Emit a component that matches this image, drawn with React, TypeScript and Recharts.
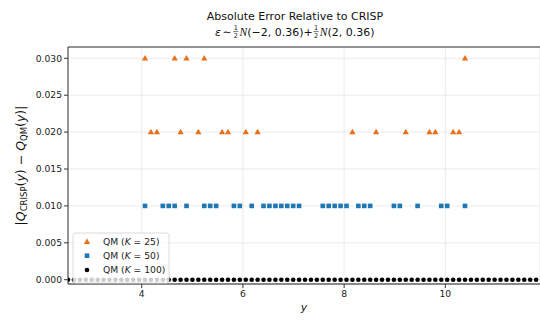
import type { FC } from 'react';
import { ScatterChart, Scatter, XAxis, YAxis, CartesianGrid } from 'recharts';

const GRID_Y = [
  2.543, 2.66, 2.777, 2.894, 3.011, 3.129, 3.246, 3.363, 3.48, 3.597,
  3.714, 3.831, 3.948, 4.065, 4.182, 4.3, 4.417, 4.534, 4.651, 4.768,
  4.885, 5.002, 5.119, 5.236, 5.353, 5.471, 5.588, 5.705, 5.822, 5.939,
  6.056, 6.173, 6.29, 6.407, 6.524, 6.642, 6.759, 6.876, 6.993, 7.11,
  7.227, 7.344, 7.461, 7.578, 7.695, 7.813, 7.93, 8.047, 8.164, 8.281,
  8.398, 8.515, 8.632, 8.749, 8.866, 8.984, 9.101, 9.218, 9.335, 9.452,
  9.569, 9.686, 9.803, 9.92, 10.037, 10.155, 10.272, 10.389, 10.506, 10.623,
  10.74, 10.857, 10.974, 11.091, 11.208, 11.326, 11.443, 11.56, 11.677, 11.794,
];
const K100_ERR = [
  0, 0, 0, 0, 0, 0, 0, 0, 0, 0, 0, 0, 0, 0, 0, 0, 0, 0, 0, 0,
  0, 0, 0, 0, 0, 0, 0, 0, 0, 0, 0, 0, 0, 0, 0, 0, 0, 0, 0, 0,
  0, 0, 0, 0, 0, 0, 0, 0, 0, 0, 0, 0, 0, 0, 0, 0, 0, 0, 0, 0,
  0, 0, 0, 0, 0, 0, 0, 0, 0, 0, 0, 0, 0, 0, 0, 0, 0, 0, 0, 0,
];

const K25_Y = [
  4.065, 4.182, 4.3, 4.651, 4.768, 4.885, 5.119, 5.236, 5.588, 5.705,
  6.056, 6.29, 8.164, 8.632, 9.218, 9.686, 9.803, 10.155, 10.272, 10.389,
];
const K25_ERR = [
  0.03, 0.02, 0.02, 0.03, 0.02, 0.03, 0.02, 0.03, 0.02, 0.02,
  0.02, 0.02, 0.02, 0.02, 0.02, 0.02, 0.02, 0.02, 0.02, 0.03,
];

const K50_Y = [
  4.065, 4.417, 4.534, 4.651, 4.885, 5.236, 5.353, 5.471, 5.822, 5.939,
  6.173, 6.407, 6.524, 6.642, 6.759, 6.876, 6.993, 7.11, 7.578, 7.695,
  7.813, 7.93, 8.047, 8.281, 8.398, 8.515, 8.984, 9.101, 9.452, 9.92,
  10.037, 10.389,
];
const K50_ERR = [
  0.01, 0.01, 0.01, 0.01, 0.01, 0.01, 0.01, 0.01, 0.01, 0.01,
  0.01, 0.01, 0.01, 0.01, 0.01, 0.01, 0.01, 0.01, 0.01, 0.01,
  0.01, 0.01, 0.01, 0.01, 0.01, 0.01, 0.01, 0.01, 0.01, 0.01,
  0.01, 0.01,
];

const X_TICKS = [4, 6, 8, 10];
const Y_TICKS = [0, 0.005, 0.01, 0.015, 0.02, 0.025, 0.03];

const ORANGE = '#e8701a';
const BLUE = '#1f77b4';
const FONT = '"DejaVu Sans", sans-serif';
const SCRIPT = '"Liberation Serif", "DejaVu Serif", serif';

const k25Data = K25_Y.map((y, i) => ({ y, err: K25_ERR[i] }));
const k50Data = K50_Y.map((y, i) => ({ y, err: K50_ERR[i] }));
const k100Data = GRID_Y.map((y, i) => ({ y, err: K100_ERR[i] }));

const Triangle = ({ cx, cy }: any) => (
  <polygon points={`${cx},${cy - 3.4} ${cx - 3.1},${cy + 2.2} ${cx + 3.1},${cy + 2.2}`} fill={ORANGE} />
);
const Square = ({ cx, cy }: any) => <rect x={cx - 2.3} y={cy - 2.3} width={4.6} height={4.6} fill={BLUE} />;
const Dot = ({ cx, cy }: any) => <circle cx={cx} cy={cy} r={2.3} fill="#000" />;

// small stacked 1/2, as mathtext draws \frac{1}{2}
const Frac: FC<{ x: number }> = ({ x }) => (
  <g fontSize={6.5} textAnchor="middle" fill="#111">
    <text x={x + 2.5} y={30.2}>1</text>
    <line x1={x} x2={x + 5} y1={31.6} y2={31.6} stroke="#111" strokeWidth={0.6} />
    <text x={x + 2.5} y={38.2}>2</text>
  </g>
);

const LegendRow: FC<{ y: number; k: string; marker: 'tri' | 'sq' | 'dot' }> = ({ y, k, marker }) => (
  <g>
    {marker === 'tri' && <Triangle cx={87} cy={y} />}
    {marker === 'sq' && <Square cx={87} cy={y} />}
    {marker === 'dot' && <Dot cx={87} cy={y} />}
    <text x={103} y={y + 3.3} fontSize={9.2} fill="#222">
      QM (<tspan fontStyle="italic">K</tspan> = {k})
    </text>
  </g>
);

const App: FC = () => {
  return (
    <div style={{ position: 'absolute', left: 0, top: 0, width: 540, height: 320, background: '#fff', fontFamily: FONT }}>
      <ScatterChart width={540} height={320} margin={{ top: 47, right: 0, bottom: 0, left: 0 }}>
        <CartesianGrid stroke="#e6e6e6" strokeWidth={0.8} />
        <XAxis
          type="number"
          dataKey="y"
          domain={[2.543, 11.871]}
          ticks={X_TICKS}
          allowDataOverflow
          height={36}
          axisLine={{ stroke: '#666', strokeWidth: 1.6 }}
          tickLine={{ stroke: '#333' }}
          tickSize={4}
          tick={{ fontSize: 9.2, fill: '#222', fontFamily: FONT }}
        />
        <YAxis
          type="number"
          dataKey="err"
          domain={[-0.00058, 0.03153]}
          ticks={Y_TICKS}
          allowDataOverflow
          width={68}
          axisLine={{ stroke: '#333', strokeWidth: 1 }}
          tickLine={{ stroke: '#333' }}
          tickSize={4}
          tickFormatter={(v: number) => v.toFixed(3)}
          tick={{ fontSize: 9.2, fill: '#222', fontFamily: FONT }}
        />
        <Scatter data={k25Data} shape={Triangle} isAnimationActive={false} />
        <Scatter data={k50Data} shape={Square} isAnimationActive={false} />
        <Scatter data={k100Data} shape={Dot} isAnimationActive={false} />
      </ScatterChart>

      <svg width={540} height={320} style={{ position: 'absolute', left: 0, top: 0, pointerEvents: 'none' }} fontFamily={FONT}>
        <line x1={68} x2={540} y1={47} y2={47} stroke="#333" strokeWidth={1.2} />

        <text x={295} y={19.5} fontSize={11} textAnchor="middle" fill="#111">
          Absolute Error Relative to CRISP
        </text>
        <g fontSize={11} fill="#111">
          <text x={215} y={35.5} fontStyle="italic">ε</text>
          <text x={222.5} y={35.5}>∼</text>
          <Frac x={233.3} />
          <text x={239.5} y={35.5}>
            <tspan fontStyle="italic" fontFamily={SCRIPT} fontSize={11.5}>N</tspan>(−2, 0.36)+
          </text>
          <Frac x={313.6} />
          <text x={319.8} y={35.5}>
            <tspan fontStyle="italic" fontFamily={SCRIPT} fontSize={11.5}>N</tspan>(2, 0.36)
          </text>
        </g>

        <text transform="translate(24.5,165.5) rotate(-90)" textAnchor="middle" fontSize={12.5} fill="#111">
          |<tspan fontStyle="italic">Q</tspan>
          <tspan fontSize={8.5} dy={2.5}>CRISP</tspan>
          <tspan dy={-2.5}>(</tspan>
          <tspan fontStyle="italic">y</tspan>) − <tspan fontStyle="italic">Q</tspan>
          <tspan fontSize={8.5} dy={2.5}>QM</tspan>
          <tspan dy={-2.5}>(</tspan>
          <tspan fontStyle="italic">y</tspan>)|
        </text>

        <text x={304} y={311} fontSize={11} fontStyle="italic" textAnchor="middle" fill="#111">
          y
        </text>

        <rect x={73} y={233} width={96} height={50} rx={2.5} fill="#fff" fillOpacity={0.8} stroke="#d0d0d0" strokeWidth={0.8} />
        <LegendRow y={241.7} k="25" marker="tri" />
        <LegendRow y={255.7} k="50" marker="sq" />
        <LegendRow y={270} k="100" marker="dot" />
      </svg>
    </div>
  );
};

export default App;
